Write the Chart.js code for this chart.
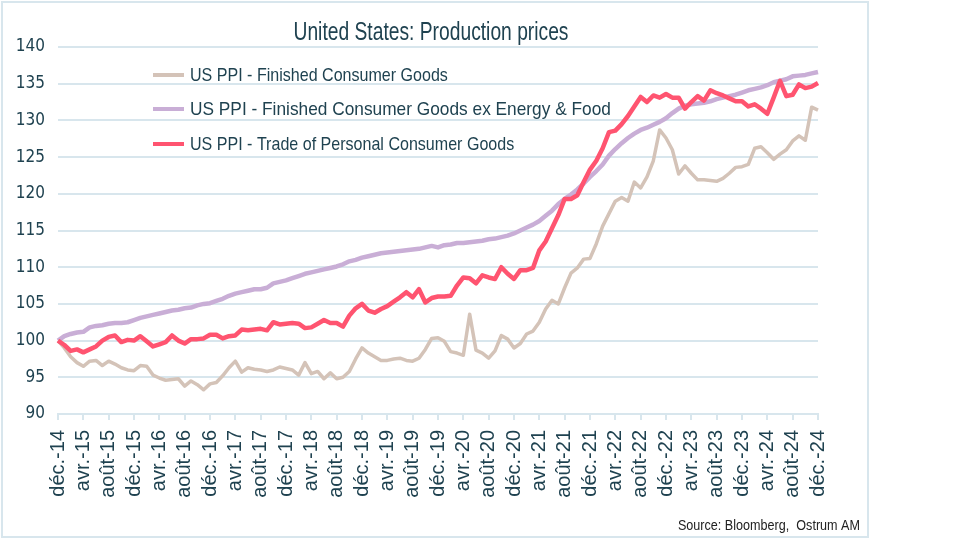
<!DOCTYPE html>
<html>
<head>
<meta charset="utf-8">
<script src="https://cdn.jsdelivr.net/npm/chart.js@4.4.1/dist/chart.umd.min.js"></script>
<style>
  html, body { margin: 0; padding: 0; background: #fff; }
</style>
</head>
<body>
<canvas id="myChart" width="960" height="540"></canvas>
<script>
// month names used for the category labels (déc.-14 ... déc.-24)
const monthNames = ["janv.", "févr.", "mars", "avr.", "mai", "juin", "juil.", "août", "sept.", "oct.", "nov.", "déc."];
const startMonth = 11; // décembre
const startYear = 14;
const nMonths = 121;

const seriesNames = [
  "US PPI - Finished Consumer Goods",
  "US PPI - Finished Consumer Goods ex Energy & Food",
  "US PPI - Trade of Personal Consumer Goods"
];

// values, monthly, Dec 2014 = 100
const finishedGoods = [
  100.0, 99.0, 97.8, 97.0, 96.5, 97.2, 97.3, 96.6, 97.2, 96.8, 96.3, 96.0, 95.9,
  96.6, 96.5, 95.3, 94.9, 94.6, 94.7, 94.8, 93.8, 94.5, 94.0, 93.3, 94.1,
  94.3, 95.2, 96.3, 97.2, 95.7, 96.3, 96.1, 96.0, 95.8, 96.0, 96.4, 96.2,
  96.0, 95.3, 97.0, 95.5, 95.8, 94.8, 95.6, 94.8, 95.0, 95.8, 97.5, 99.0,
  98.3, 97.8, 97.3, 97.3, 97.5, 97.6, 97.3, 97.2, 97.6, 98.8, 100.3, 100.4,
  99.9, 98.5, 98.3, 98.0, 103.6, 98.7, 98.3, 97.6, 98.6, 100.7, 100.2, 99.0,
  99.6, 100.9, 101.3, 102.5, 104.3, 105.5, 105.0, 107.2, 109.2, 109.9, 111.1, 111.2,
  113.2, 115.6, 117.3, 119.0, 119.5, 119.0, 121.6, 120.8, 122.3, 124.5, 128.7, 127.6,
  126.0, 122.7, 123.8, 122.8, 121.9, 121.9, 121.8, 121.7, 122.1, 122.8, 123.6, 123.7,
  124.0, 126.2, 126.4, 125.6, 124.7, 125.4, 126.0, 127.2, 127.9, 127.3, 131.8, 131.4
];
const exEnergyFood = [
  100.0, 100.6, 100.9, 101.1, 101.2, 101.8, 102.0, 102.1, 102.3, 102.4, 102.4, 102.5, 102.8,
  103.1, 103.3, 103.5, 103.7, 103.9, 104.1, 104.2, 104.4, 104.5, 104.8, 105.0, 105.1,
  105.4, 105.7, 106.1, 106.4, 106.6, 106.8, 107.0, 107.0, 107.2, 107.8, 108.0, 108.2,
  108.5, 108.8, 109.1, 109.3, 109.5, 109.7, 109.9, 110.1, 110.4, 110.8, 111.0, 111.3,
  111.5, 111.7, 111.9, 112.0, 112.1, 112.2, 112.3, 112.4, 112.5, 112.7, 112.9, 112.7,
  113.0, 113.1, 113.3, 113.3, 113.4, 113.5, 113.6, 113.8, 113.9, 114.1, 114.3, 114.6,
  115.0, 115.4, 115.8, 116.3, 117.0, 117.7, 118.6, 119.3, 119.9, 120.6, 121.4, 122.3,
  123.1, 124.0, 125.2, 126.1, 126.9, 127.6, 128.2, 128.7, 129.0, 129.4, 129.8, 130.3,
  131.0, 131.6, 132.0, 132.2, 132.3, 132.4, 132.6, 132.9, 133.1, 133.3, 133.5, 133.8,
  134.1, 134.3, 134.5, 134.8, 135.2, 135.4, 135.6, 136.0, 136.1, 136.2, 136.4, 136.6
];
const tradePersonal = [
  100.0, 99.4, 98.6, 98.8, 98.4, 98.8, 99.2, 100.0, 100.5, 100.7, 99.8, 100.1, 100.0,
  100.6, 99.9, 99.2, 99.5, 99.8, 100.7, 100.0, 99.6, 100.2, 100.2, 100.3, 100.8,
  100.8, 100.3, 100.6, 100.7, 101.5, 101.4, 101.5, 101.6, 101.4, 102.5, 102.2, 102.3,
  102.4, 102.3, 101.7, 101.8, 102.3, 102.8, 102.4, 102.4, 101.9, 103.4, 104.4, 105.0,
  104.1, 103.8, 104.3, 104.7, 105.3, 105.9, 106.6, 105.9, 107.0, 105.2, 105.8, 106.0,
  106.0, 106.1, 107.5, 108.6, 108.5, 107.8, 108.9, 108.6, 108.4, 110.0, 109.1, 108.4,
  109.6, 109.6, 109.9, 112.3, 113.5, 115.3, 117.1, 119.3, 119.3, 119.8, 121.6, 123.3,
  124.5, 126.2, 128.4, 128.6, 129.5, 130.6, 131.9, 133.2, 132.5, 133.4, 133.1, 133.6,
  133.1, 133.1, 131.6, 132.5, 133.3, 132.7, 134.1, 133.7, 133.4, 133.0, 132.6, 132.6,
  131.9, 132.2, 131.6, 130.9, 133.1, 135.4, 133.3, 133.5, 134.9, 134.4, 134.6, 135.1
];

const seriesColors = ["#d4c3b8", "#c9aed6", "#ff5470"];
const yTicks = [90, 95, 100, 105, 110, 115, 120, 125, 130, 135, 140];

const labels = [];
for (let i = 0; i < nMonths; i++) {
  const m = (startMonth + i) % 12;
  const y = startYear + Math.floor((startMonth + i) / 12);
  labels.push(monthNames[m] + "-" + y);
}

const textColor = "#1f4250";
const gridColor = "#d8e6ed";
const arial = '"Liberation Sans", Arial, sans-serif';
const condensed = '"DejaVu Sans Condensed", "Liberation Sans", sans-serif';

// draws text squeezed horizontally so that it takes the wanted width
function narrowText(c, text, x, y, size, squeeze, align) {
  c.font = size + "px " + arial;
  const w = c.measureText(text).width * squeeze;
  let left = x;
  if (align === "center") left = x - w / 2;
  if (align === "right") left = x - w;
  c.save();
  c.translate(left, y);
  c.scale(squeeze, 1);
  c.textAlign = "left";
  c.fillText(text, 0, 0);
  c.restore();
}

// title, legend inside the plot, source line and outer frame
const decorations = {
  id: "decorations",
  beforeDraw(chart) {
    const c = chart.ctx;
    c.save();
    c.fillStyle = "#fff";
    c.fillRect(0, 0, chart.width, chart.height);
    c.strokeStyle = gridColor;
    c.lineWidth = 2;
    c.strokeRect(2, 2, 866, 535);
    c.restore();
  },
  afterDraw(chart) {
    const c = chart.ctx;
    c.save();
    c.fillStyle = textColor;
    c.textBaseline = "middle";
    narrowText(c, "United States: Production prices", 431, 33, 25, 0.77, "center");

    const rows = [75, 109, 144];
    const squeezes = [0.845, 0.91, 0.845];
    for (let k = 0; k < 3; k++) {
      c.strokeStyle = seriesColors[k];
      c.lineWidth = 4;
      c.beginPath();
      c.moveTo(153, rows[k]);
      c.lineTo(184, rows[k]);
      c.stroke();
      c.fillStyle = textColor;
      narrowText(c, seriesNames[k], 190, rows[k] + 1, 19, squeezes[k], "left");
    }

    c.fillStyle = "#222";
    narrowText(c, "Source: Bloomberg,  Ostrum AM", 860, 526, 15, 0.84, "right");
    c.restore();
  }
};

const ctx = document.getElementById("myChart").getContext("2d");
window.chart = new Chart(ctx, {
  type: "line",
  data: {
    labels: labels,
    datasets: [
      { label: seriesNames[0], data: finishedGoods, borderColor: seriesColors[0], borderWidth: 3.5, order: 3 },
      { label: seriesNames[1], data: exEnergyFood, borderColor: seriesColors[1], borderWidth: 4.5, order: 2 },
      { label: seriesNames[2], data: tradePersonal, borderColor: seriesColors[2], borderWidth: 4.5, order: 1 }
    ]
  },
  options: {
    responsive: false,
    animation: false,
    elements: { point: { radius: 0 }, line: { tension: 0, borderJoinStyle: "round" } },
    layout: { padding: { top: 47, right: 142, bottom: 0, left: 0 } },
    plugins: { legend: { display: false }, title: { display: false }, tooltip: { enabled: false } },
    scales: {
      x: {
        type: "category",
        offset: false,
        afterFit(scale) { scale.height = 126; },
        grid: { display: true, drawOnChartArea: false, drawTicks: true, tickLength: 6, color: gridColor, lineWidth: 2 },
        border: { display: true, color: gridColor, width: 2 },
        ticks: {
          autoSkip: false,
          minRotation: 90,
          maxRotation: 90,
          padding: 10,
          color: textColor,
          font: { family: arial, size: 20 },
          callback(value, index) { return index % 4 === 0 ? labels[index] : null; }
        }
      },
      y: {
        min: 90,
        max: 140,
        afterFit(scale) { scale.width = 58; },
        afterBuildTicks(scale) { scale.ticks = yTicks.map(v => ({ value: v })); },
        grid: { color: gridColor, lineWidth: 2, drawTicks: false },
        border: { display: false },
        ticks: { padding: 13, color: textColor, font: { family: condensed, size: 17 } }
      }
    }
  },
  plugins: [decorations]
});
</script>
</body>
</html>
